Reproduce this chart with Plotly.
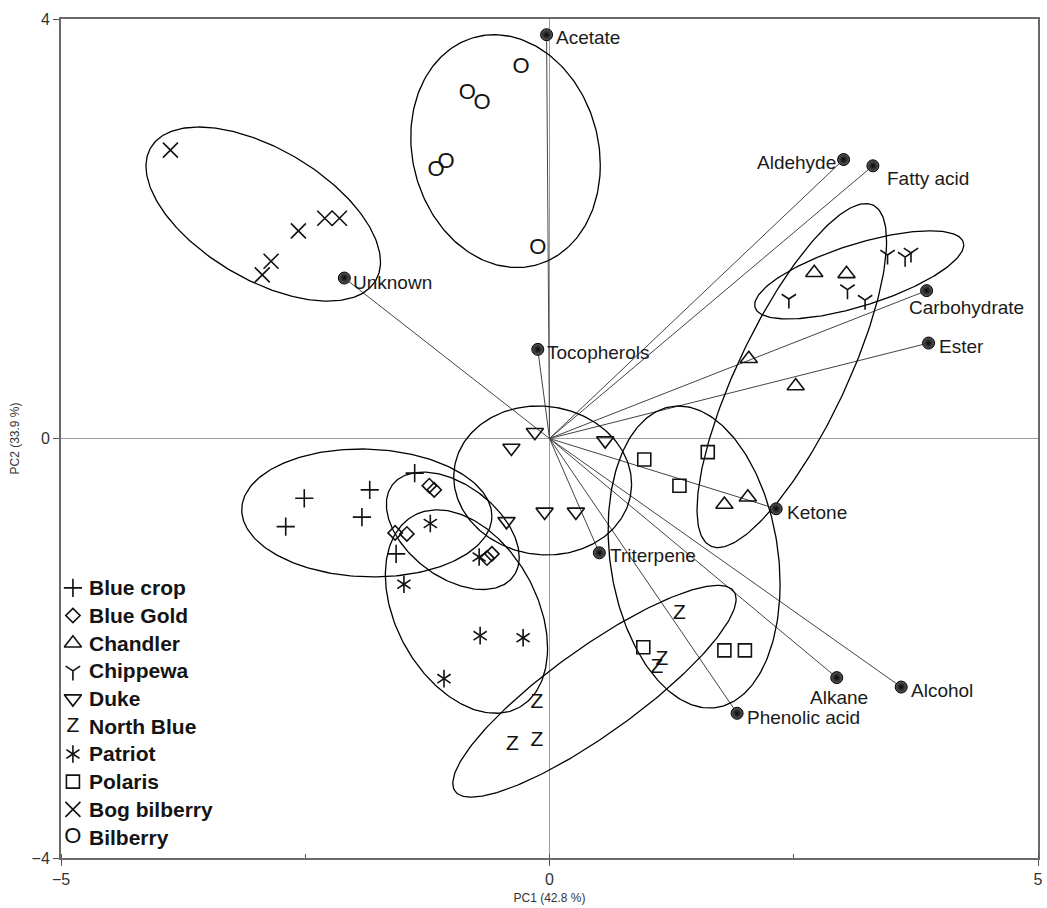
import numpy as np
import plotly.graph_objects as go

# ---------------- sample scores (PC1, PC2) ----------------
blue_crop_x = [-1.38, -1.84, -2.51, -2.70, -1.92, -1.57]
blue_crop_y = [-0.33, -0.49, -0.57, -0.84, -0.75, -1.10]
blue_gold_x = [-1.23, -1.18, -1.58, -1.46, -0.64, -0.59]
blue_gold_y = [-0.45, -0.49, -0.90, -0.91, -1.14, -1.10]
chandler_x = [2.71, 3.04, 2.04, 2.52, 1.79, 2.03]
chandler_y = [1.58, 1.57, 0.76, 0.50, -0.63, -0.56]
chippewa_x = [2.45, 3.05, 3.23, 3.46, 3.64, 3.70]
chippewa_y = [1.33, 1.42, 1.32, 1.75, 1.73, 1.77]
duke_x = [-0.15, -0.39, 0.57, -0.05, 0.27, -0.44]
duke_y = [0.06, -0.09, -0.02, -0.70, -0.70, -0.79]
north_blue_x = [1.33, 1.15, 1.10, -0.13, -0.38, -0.13]
north_blue_y = [-1.67, -2.11, -2.19, -2.52, -2.92, -2.88]
patriot_x = [-1.22, -0.72, -1.49, -0.71, -0.27, -1.08]
patriot_y = [-0.81, -1.13, -1.39, -1.88, -1.90, -2.29]
polaris_x = [0.97, 1.62, 1.33, 0.96, 1.79, 2.00]
polaris_y = [-0.20, -0.13, -0.45, -1.99, -2.02, -2.02]
bog_bilberry_x = [-3.88, -2.57, -2.30, -2.15, -2.85, -2.94]
bog_bilberry_y = [2.75, 1.98, 2.10, 2.10, 1.69, 1.56]
bilberry_x = [-0.29, -0.84, -0.69, -1.06, -1.16, -0.12]
bilberry_y = [3.54, 3.29, 3.19, 2.63, 2.56, 1.81]

# ---------------- group ellipses ----------------
# centre, half-extent along each axis, and x/y coupling (cosine of phase)
ellipse_groups = ["Bog bilberry", "Bilberry", "Chippewa", "Chandler", "Duke",
                  "Blue crop", "Blue Gold", "Patriot", "North Blue", "Polaris"]
ellipse_cx = [-2.93, -0.45, 3.17, 2.48, -0.07, -1.87, -0.99, -0.85, 0.46, 1.48]
ellipse_cy = [2.14, 2.74, 1.56, 0.60, -0.40, -0.71, -0.88, -1.65, -2.41, -1.13]
ellipse_hx = [1.20, 0.97, 1.07, 0.97, 0.91, 1.28, 0.68, 0.83, 1.45, 0.88]
ellipse_hy = [0.83, 1.11, 0.42, 1.64, 0.71, 0.61, 0.56, 0.97, 1.01, 1.44]
ellipse_rho = [-0.55, -0.12, 0.68, 0.78, -0.05, -0.05, -0.45, -0.36, 0.87, -0.18]

# ---------------- variable loadings ----------------
loading_names = ["Acetate", "Unknown", "Aldehyde", "Fatty acid", "Carbohydrate", "Ester",
                 "Tocopherols", "Ketone", "Triterpene", "Alkane", "Alcohol", "Phenolic acid"]
loading_x = [-0.03, -2.10, 3.01, 3.31, 3.86, 3.88, -0.12, 2.32, 0.51, 2.94, 3.60, 1.92]
loading_y = [3.85, 1.53, 2.66, 2.60, 1.41, 0.91, 0.85, -0.67, -1.09, -2.28, -2.37, -2.62]

# label placement around each loading point: (xanchor, xshift, yshift)
label_place = {
    "Acetate": ("left", 7, -3), "Unknown": ("left", 7, -4), "Aldehyde": ("right", -6, -3),
    "Fatty acid": ("left", 12, -13), "Carbohydrate": ("left", -20, -17), "Ester": ("left", 8, -3),
    "Tocopherols": ("left", 7, -3), "Ketone": ("left", 9, -4), "Triterpene": ("left", 9, -3),
    "Alkane": ("center", 2, -20), "Alcohol": ("left", 8, -3), "Phenolic acid": ("left", 8, -4),
}

TXT = "Liberation Sans, Arial, sans-serif"
INK = "#111111"
LW = 1.6

# cultivar series: name, x, y, list of drawing styles
series = [
    ("Blue crop", blue_crop_x, blue_crop_y, [dict(kind="marker", symbol="cross-thin-open", size=13)]),
    ("Blue Gold", blue_gold_x, blue_gold_y, [dict(kind="marker", symbol="diamond-open", size=11)]),
    ("Chandler", chandler_x, chandler_y, [dict(kind="marker", symbol="triangle-up-open", size=15)]),
    ("Chippewa", chippewa_x, chippewa_y, [dict(kind="marker", symbol="y-down-open", size=12)]),
    ("Duke", duke_x, duke_y, [dict(kind="marker", symbol="triangle-down-open", size=15)]),
    ("North Blue", north_blue_x, north_blue_y, [dict(kind="text", char="Z", size=21)]),
    ("Patriot", patriot_x, patriot_y, [dict(kind="marker", symbol="y-up-open", size=11),
                                       dict(kind="marker", symbol="y-down-open", size=11)]),
    ("Polaris", polaris_x, polaris_y, [dict(kind="marker", symbol="square-open", size=13)]),
    ("Bog bilberry", bog_bilberry_x, bog_bilberry_y, [dict(kind="marker", symbol="x-thin-open", size=15)]),
    ("Bilberry", bilberry_x, bilberry_y, [dict(kind="text", char="O", size=22)]),
]


def style_trace(xs, ys, st, name, xaxis="x", yaxis="y"):
    if st["kind"] == "marker":
        return go.Scatter(x=xs, y=ys, mode="markers", name=name, showlegend=False,
                          xaxis=xaxis, yaxis=yaxis, hoverinfo="skip",
                          marker=dict(symbol=st["symbol"], size=st["size"], color=INK,
                                      line=dict(color=INK, width=LW)))
    return go.Scatter(x=xs, y=ys, mode="text", name=name, showlegend=False,
                      xaxis=xaxis, yaxis=yaxis, hoverinfo="skip",
                      text=[st["char"]] * len(xs), textposition="middle center",
                      textfont=dict(family=TXT, size=st["size"], color=INK))


fig = go.Figure()

# loading vectors from the origin
vx, vy = [], []
for lx, ly in zip(loading_x, loading_y):
    vx += [0, lx, None]
    vy += [0, ly, None]
fig.add_trace(go.Scatter(x=vx, y=vy, mode="lines", showlegend=False, hoverinfo="skip",
                         line=dict(color="#444444", width=1)))

# group ellipses
t = np.linspace(0, 2 * np.pi, 241)
for g, cx, cy, hx, hy, rho in zip(ellipse_groups, ellipse_cx, ellipse_cy,
                                  ellipse_hx, ellipse_hy, ellipse_rho):
    phi = np.arccos(rho)
    fig.add_trace(go.Scatter(x=cx + hx * np.cos(t), y=cy + hy * np.cos(t - phi),
                             mode="lines", name=g, showlegend=False, hoverinfo="skip",
                             line=dict(color="#000000", width=1.3)))

# sample points
for name, xs, ys, styles in series:
    for st in styles:
        fig.add_trace(style_trace(xs, ys, st, name))

# loading points
fig.add_trace(go.Scatter(x=loading_x, y=loading_y, mode="markers", showlegend=False,
                         hoverinfo="skip",
                         marker=dict(symbol="circle", size=12, color="#5a5a5a",
                                     gradient=dict(type="radial", color="#050505"),
                                     line=dict(color="#000000", width=1))))

annotations = []
for name, lx, ly in zip(loading_names, loading_x, loading_y):
    anchor, dx, dy = label_place[name]
    annotations.append(dict(x=lx, y=ly, xref="x", yref="y", text=name, showarrow=False,
                            xanchor=anchor, yanchor="middle", xshift=dx, yshift=dy,
                            font=dict(family=TXT, size=19, color="#1a1a1a")))

# in-plot key (lower left), laid out on a unit overlay axis
KEY_X_SYM = 0.0122
KEY_X_TXT = 0.0265
KEY_Y0 = 0.322
KEY_STEP = 0.033
for i, (name, xs, ys, styles) in enumerate(series):
    ky = KEY_Y0 - i * KEY_STEP
    for st in styles:
        fig.add_trace(style_trace([KEY_X_SYM], [ky], st, name, xaxis="x2", yaxis="y2"))
    annotations.append(dict(x=KEY_X_TXT, y=ky, xref="paper", yref="paper",
                            text="<b>" + name + "</b>", showarrow=False,
                            xanchor="left", yanchor="middle",
                            font=dict(family=TXT, size=21, color="#141414")))

axis_common = dict(showgrid=False, zeroline=True, zerolinecolor="#9c9c9c", zerolinewidth=1,
                   showline=True, linecolor="#6a6a6a", linewidth=2, mirror=True,
                   ticks="outside", ticklen=6, tickcolor="#555555", tickwidth=1,
                   tickfont=dict(family=TXT, size=16, color="#333333"))

fig.update_layout(
    width=1047, height=908,
    margin=dict(l=61, r=4, t=19, b=50),
    paper_bgcolor="white", plot_bgcolor="white",
    showlegend=False,
    xaxis=dict(range=[-5, 5], tickvals=[-5, 0, 5],
               minor=dict(dtick=2.5, ticks="inside", ticklen=4, tickcolor="#555555"),
               title=dict(text="PC1 (42.8 %)", standoff=6,
                          font=dict(family=TXT, size=12, color="#333333")),
               **axis_common),
    yaxis=dict(range=[-4, 4], tickvals=[-4, 0, 4],
               title=dict(text="PC2 (33.9 %)", standoff=9,
                          font=dict(family=TXT, size=12, color="#333333")),
               **axis_common),
    xaxis2=dict(range=[0, 1], overlaying="x", visible=False, fixedrange=True),
    yaxis2=dict(range=[0, 1], overlaying="y", visible=False, fixedrange=True),
    annotations=annotations,
)

fig.write_html("out.html", config={"displayModeBar": False})
